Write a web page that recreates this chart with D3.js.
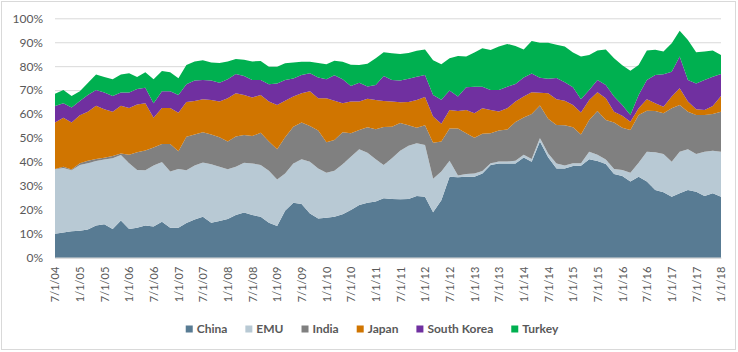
<!DOCTYPE html>
<html>
<head>
<meta charset="utf-8">
<script src="https://cdn.jsdelivr.net/npm/d3@7"></script>
<style>
  body { margin: 0; background: #fff; }
  text { font-family: Lato, "Open Sans", "Liberation Sans", sans-serif; }
</style>
</head>
<body>
<svg id="chart"></svg>
<script>
// share of imports, one point every two months from 7/1/04 to 1/1/18
var startDate = new Date(2004, 6, 1),
    endDate = new Date(2018, 0, 1),
    stepMonths = 2;

var keys = ["China", "EMU", "India", "Japan", "South Korea", "Turkey"];
var colors = ["#587b93", "#b8c9d4", "#808080", "#d07500", "#7030a0", "#00b050"];

var china = [10,10.5,11,11.3,11.8,13.5,14,12,15.5,12,
  12.5,13.5,13,15,12.5,12.5,14.5,16,17.1,14.6,
  15.3,16.2,17.8,18.9,17.8,17.1,14.6,13.2,19.6,23,
  22.4,18.5,16.4,16.7,17.1,18.1,19.9,22,23,23.5,
  24.8,24.5,24.4,24.5,25.8,25.5,19,24,33.8,33.6,
  33.8,33.8,35.2,38.7,39.4,39.4,39.4,41.9,40.1,48.5,
  42,37.3,37.3,38.3,38.4,41.1,40.4,39.1,35,34.1,
  31.8,33.8,31.8,28.3,27.3,25.5,26.9,28.3,27.6,25.8,
  26.9,25.5];

var emu = [26.9,27,25.5,27.4,27.7,26.9,27,29.5,27.4,27.5,
  24.1,23,25.5,25,23.5,24.5,22,22.5,22.7,24.4,
  22.7,20.7,20.2,20.8,21.6,21.6,21.7,19.5,15.6,16.4,
  18.7,21.6,20.9,18.8,19.2,20.9,22.3,23.3,20.8,17.6,
  13.9,17,20.3,22.3,22,21.6,14,12,6.7,0.7,
  1.2,1.4,1,0.8,0.8,0.8,1.1,1.1,1.1,1.5,
  1.5,2,1.2,1.2,1.1,3.2,2.6,1.9,2,2.5,
  3.7,5.9,12.5,15.7,16,14.6,17.4,17,15.7,18.5,
  17.8,18.8];

var india = [0.1,0.5,0.3,0.8,1,0.8,0.8,1,0.6,3.5,
  7.4,8.3,7.5,7.5,11.5,7.5,14,13,12.6,12.5,
  12.3,11.6,12.6,11.6,11.4,13.5,12.2,12.6,15.1,15.3,
  15.4,14.9,15.8,12.7,12.9,13.4,9.8,8,10.7,12.6,
  15.9,13.2,11.6,8.5,6.5,8.2,15,12.5,13.5,19.7,
  17,14.9,15.6,12.5,12.9,13.4,16.2,15.6,18.8,13.6,
  14.5,16.1,16.8,15,12,13.2,18.3,16.5,19.5,17.7,
  17.8,19.9,17.1,17.3,17,22.3,19.5,15.7,16.3,15.3,
  15.3,16.7];

var japan = [19.5,20.5,19.7,20,20.5,22.3,20.2,18.5,20,19.5,
  20,19.7,12.5,15,15,16,14.5,14,13.8,14.4,
  14.9,18.1,18.1,16.7,16.1,15.8,16.7,18.5,15.3,12.6,
  12.2,14.5,13.5,18.4,16.4,12.1,13.2,11.9,11.9,12.2,
  10.9,10.5,8.6,9.7,11.6,11.8,11,7.5,7.7,7.3,
  9.7,10.2,10.6,9.7,8,8.8,8.5,8.7,9.1,5.3,
  10.7,10.8,10.3,9.3,9.1,8.4,7.8,9.1,4.5,5,
  3.5,2.8,4.8,3.2,2.8,4.9,7,4.2,2.4,2.1,
  3.4,6.5];

var korea = [6.9,6,6.2,6,7,6.5,7,6.5,5.5,6.5,
  6.5,6.5,6,7,7,7.5,7.5,8.5,8,8.1,
  7.9,7.9,8,7.9,7.3,6.2,7.2,9,8.6,7.6,
  7.6,7.5,8.7,7.9,10.6,10,6.5,7.9,5.1,6.2,
  10.4,9,9.1,9.8,9.7,9.2,9,10,8.1,6,
  9.5,11.1,9,8.4,9,9,7.4,8,7.8,6.3,
  6.1,8.9,7.7,7.4,5.6,4.2,5.1,5.5,6.3,4.5,
  2.8,5.6,8,11.8,13.5,10.4,13.2,9,10.8,12.5,
  12.2,9.2];

var turkey = [5.1,5.5,4.8,4,5,6.5,6.5,7,7.5,8,
  5,6.5,10,8.5,8,7,8,8,8.3,7.5,
  8.2,7.5,6.3,6.8,7.8,8,7.4,7,7,6.6,
  5.6,4.8,6,6.3,6.1,7.3,8.9,7.4,9.5,11.2,
  9.9,11.2,11.1,10.7,10.8,10.7,14.5,14.8,13.5,17,
  12.8,14.3,16.1,16.7,18.1,17.9,15.8,11.7,13.6,14.6,
  15,13.8,14.9,14.5,17.8,14.6,12.3,14.9,16,16.6,
  18.5,12.5,12.3,10.6,9.5,11.9,10.8,16.7,13,11.9,
  10.9,8];

var yTicks = [0,10,20,30,40,50,60,70,80,90,100];

var width = 738, height = 352,
    plotLeft = 55, plotRight = 721, plotTop = 18.3, plotBottom = 257.7;

var series = [china, emu, india, japan, korea, turkey];
var rows = china.map(function(v, i){
  var row = {date: d3.timeMonth.offset(startDate, i * stepMonths)};
  keys.forEach(function(k, j){ row[k] = series[j][i]; });
  return row;
});

var svg = d3.select("#chart")
  .attr("width", width)
  .attr("height", height);

svg.append("rect")
  .attr("x", 1.5).attr("y", 1.5)
  .attr("width", width - 4).attr("height", height - 4)
  .attr("fill", "#fff")
  .attr("stroke", "#d9d9d9");

var x = d3.scaleTime().domain([startDate, endDate]).range([plotLeft, plotRight]);
var y = d3.scaleLinear().domain([0, 100]).range([plotBottom, plotTop]);

// gridlines + y labels
var yAxis = svg.append("g")
  .attr("transform", "translate(" + plotLeft + ",0)")
  .call(d3.axisLeft(y).tickValues(yTicks).tickSize(-(plotRight - plotLeft)).tickPadding(12)
    .tickFormat(function(d){ return d + "%"; }));
yAxis.select(".domain").remove();
yAxis.selectAll("line").attr("stroke", "#d9d9d9");
yAxis.selectAll("text").attr("fill", "#595959").style("font-size", "12px");

var stack = d3.stack().keys(keys);
var layers = stack(rows);

var area = d3.area()
  .x(function(d){ return x(d.data.date); })
  .y0(function(d){ return y(d[0]); })
  .y1(function(d){ return y(d[1]); });

svg.append("g").selectAll("path")
  .data(layers).enter()
  .append("path")
  .attr("fill", function(d, i){ return colors[i]; })
  .attr("d", area);

// x axis
var xAxis = svg.append("g")
  .attr("transform", "translate(0," + plotBottom + ")")
  .call(d3.axisBottom(x).ticks(d3.timeMonth.every(6)).tickSize(0)
    .tickFormat(d3.timeFormat("%-m/%-d/%y")));
xAxis.select(".domain").attr("stroke", "#d9d9d9");
xAxis.selectAll("text")
  .attr("fill", "#595959")
  .style("font-size", "11px")
  .style("text-anchor", "end")
  .attr("transform", "rotate(-90)")
  .attr("x", -9)
  .attr("y", 0)
  .attr("dy", "0.35em");

// legend
var legend = svg.append("g").attr("transform", "translate(0,329)");
var items = legend.selectAll("g")
  .data(keys).enter()
  .append("g");
items.append("rect")
  .attr("width", 7).attr("height", 7)
  .attr("y", -3.5)
  .attr("fill", function(d, i){ return colors[i]; });
items.append("text")
  .attr("x", 11)
  .attr("dy", "0.35em")
  .attr("fill", "#595959")
  .style("font-size", "12px")
  .style("font-weight", "bold")
  .text(function(d){ return d; });

var pos = 0, offsets = [];
items.each(function(){
  offsets.push(pos);
  pos += 11 + d3.select(this).select("text").node().getComputedTextLength() + 18;
});
var total = pos - 18, startX = 372 - total / 2;
items.attr("transform", function(d, i){ return "translate(" + (startX + offsets[i]) + ",0)"; });
</script>
</body>
</html>
